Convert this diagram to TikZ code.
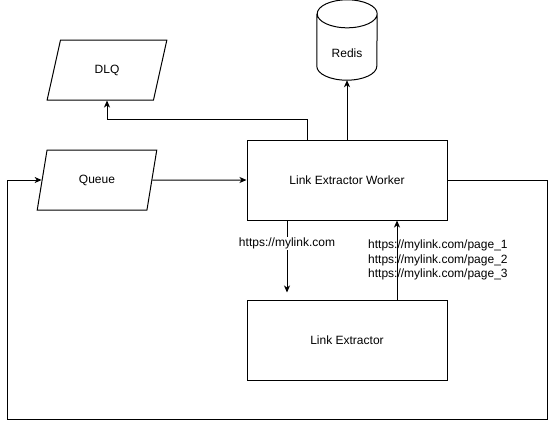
\documentclass[tikz,border=0pt]{standalone}
\usepackage{fontspec}
\setmainfont{Liberation Sans}
\usetikzlibrary{arrows.meta,positioning,shapes.geometric}
\tikzset{
  lbl/.style ={font=\fontsize{12}{14.5}\selectfont},
  box/.style ={draw,lbl,line width=1pt,minimum width=200pt,minimum height=80pt,inner sep=0pt},
  para/.style={draw,lbl,line width=1pt,trapezium,trapezium left angle=71.57,trapezium right angle=108.43,
               trapezium stretches=true,minimum width=120pt,minimum height=60pt,inner sep=0pt},
  cyl/.style ={minimum width=60pt,minimum height=80pt,inner sep=0pt},
  conn/.style={-{Stealth[length=7pt,width=6pt,inset=2pt]},line width=1pt},
}
\begin{document}
\begin{tikzpicture}[x=1pt,y=-1pt]
  \useasboundingbox (0,0) rectangle (556,429);
  % queues and workers
  \node[para] (dlq)   at (107,70)  {DLQ};
  \node[para] (queue) at (97,180)  {Queue};
  \node[box]  (worker)    at (347,180) {Link Extractor Worker};
  \node[box]  (extractor) at (347,340) {Link Extractor};
  % redis cylinder
  \node[cyl] (redis) at (347,40) {};
  \draw[line width=1pt] ([yshift=-14pt]redis.north west) -- ([yshift=14pt]redis.south west)
        arc[start angle=180,end angle=360,x radius=30pt,y radius=14pt]
        -- ([yshift=-14pt]redis.north east)
        arc[start angle=0,end angle=180,x radius=30pt,y radius=14pt]
        arc[start angle=180,end angle=360,x radius=30pt,y radius=14pt];
  \node[lbl] (redislbl) at ([yshift=-13pt]redis.center) {Redis};
  % connectors
  \draw[conn] (queue) -- (worker);
  \draw[conn] (worker) -- (redis);
  \draw[conn] ([xshift=-40pt]worker.north) -- ++(0,-20) -| (dlq);
  \draw[conn] (worker.east) -- ++(100,0) -- ++(0,239) -- ++(-540,0) |- (queue.west);
  \draw[conn] ([xshift=-60pt]worker.south) -- ([xshift=-60pt,yshift=7pt]extractor.north)
        node[lbl,pos=0.32,fill=white,inner sep=1pt] (urlin) {https://mylink.com};
  \draw[conn] ([xshift=50pt]extractor.north) -- ([xshift=50pt]worker.south);
  \node[lbl,align=left,anchor=west,inner sep=0pt] (urlout) at (368,260)
        {https://mylink.com/page\_1\\https://mylink.com/page\_2\\https://mylink.com/page\_3};
\end{tikzpicture}
\end{document}
